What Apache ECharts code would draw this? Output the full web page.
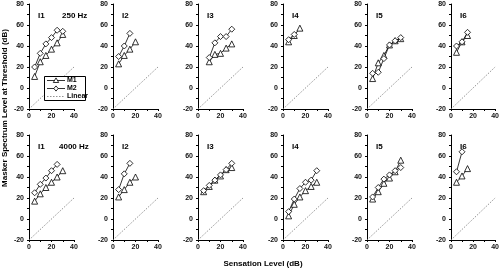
<!DOCTYPE html>
<html>
<head>
<meta charset="utf-8">
<script src="https://cdn.jsdelivr.net/npm/echarts@6/dist/echarts.min.js"></script>
<style>
  html, body { margin: 0; padding: 0; background: #fff; }
  #chart { width: 502px; height: 269px; }
</style>
</head>
<body>
<div id="chart"></div>
<script>
const listeners = ['I1', 'I2', 'I3', 'I4', 'I5', 'I6'];
const frequencies = ['250 Hz', '4000 Hz'];
const xTickLabels = [0, 20, 40];
const yTickLabels = [-20, 0, 20, 40, 60, 80];

// [sensation level, masker level] per listener
const m1At250 = [
  [[5, 11], [10, 25], [15, 31], [20, 37], [25, 43], [30, 51]],
  [[5, 23], [10, 31], [15, 37], [20, 44]],
  [[10, 25], [15, 32], [20, 33], [25, 38], [30, 42]],
  [[5, 44], [10, 50], [15, 57]],
  [[5, 9], [10, 24], [15, 31], [20, 41], [25, 45], [30, 47]],
  [[5, 34], [10, 44], [15, 50]]
];
const m2At250 = [
  [[5, 20], [10, 33], [15, 42], [20, 48], [25, 55], [30, 54]],
  [[5, 30], [10, 40], [15, 52]],
  [[10, 29], [15, 43], [20, 49], [25, 49], [30, 56]],
  [[5, 46], [10, 51]],
  [[5, 14], [10, 15], [15, 28], [20, 41], [25, 45], [30, 48]],
  [[5, 40], [10, 44], [15, 53]]
];
const m1At4000 = [
  [[5, 17], [10, 24], [15, 30], [20, 35], [25, 40], [30, 46]],
  [[5, 21], [10, 28], [15, 35], [20, 40]],
  [[5, 26], [10, 31], [15, 37], [20, 41], [25, 47], [30, 49]],
  [[5, 3], [10, 14], [15, 21], [20, 27], [25, 31], [30, 35]],
  [[5, 19], [10, 26], [15, 34], [20, 39], [25, 45], [30, 56]],
  [[5, 35], [10, 41], [15, 48]]
];
const m2At4000 = [
  [[5, 25], [10, 33], [15, 39], [20, 46], [25, 52]],
  [[5, 28], [10, 43], [15, 53]],
  [[5, 27], [10, 32], [15, 37], [20, 42], [25, 47], [30, 53]],
  [[5, 7], [10, 19], [15, 29], [20, 35], [25, 37], [30, 46]],
  [[5, 21], [10, 30], [15, 38], [20, 42], [25, 46], [30, 49]],
  [[5, 45], [10, 64]]
];
const linearRef = [[0, -20], [40, 20]];

const font = '"Liberation Sans", Arial, sans-serif';
const colLeft = [29, 113, 198, 283, 367, 451];
const rowTop = [4, 135];
const panelW = 45, panelH = 105;

const openMarker = { color: '#fff', borderColor: '#000', borderWidth: 0.8 };
const blackLine = { color: '#000', width: 0.8 };
const linearLine = { color: '#777', width: 0.8, type: [1.5, 1.5] };

const chart = echarts.init(document.getElementById('chart'));

const grids = [], xAxes = [], yAxes = [], series = [], titles = [];
const rows = [[m1At250, m2At250], [m1At4000, m2At4000]];

function axisBase(idx) {
  return {
    gridIndex: idx, type: 'value',
    axisLine: { show: true, onZero: false, lineStyle: { color: '#000', width: 1 } },
    axisTick: { show: true, length: 2, lineStyle: { color: '#000' } },
    minorTick: { show: true, splitNumber: 2, length: 2, lineStyle: { color: '#000' } },
    splitLine: { show: false }
  };
}

const tickFont = { color: '#111', fontSize: 7, fontWeight: 'bold', fontFamily: font };

rows.forEach(([m1, m2], r) => {
  listeners.forEach((name, c) => {
    const idx = grids.length;
    grids.push({ left: colLeft[c], top: rowTop[r], width: panelW, height: panelH });
    xAxes.push(Object.assign(axisBase(idx), {
      min: xTickLabels[0], max: xTickLabels[xTickLabels.length - 1],
      interval: xTickLabels[1] - xTickLabels[0],
      axisLabel: Object.assign({ margin: 4 }, tickFont)
    }));
    yAxes.push(Object.assign(axisBase(idx), {
      min: yTickLabels[0], max: yTickLabels[yTickLabels.length - 1],
      interval: yTickLabels[1] - yTickLabels[0],
      axisLabel: Object.assign({ margin: 5 }, tickFont)
    }));
    series.push({
      name: 'Linear', type: 'line', xAxisIndex: idx, yAxisIndex: idx,
      data: linearRef, symbol: 'none', silent: true,
      itemStyle: { color: '#777' }, lineStyle: linearLine
    });
    series.push({
      name: 'M1', type: 'line', xAxisIndex: idx, yAxisIndex: idx,
      data: m1[c], symbol: 'triangle', symbolSize: 6,
      itemStyle: openMarker, lineStyle: blackLine
    });
    series.push({
      name: 'M2', type: 'line', xAxisIndex: idx, yAxisIndex: idx,
      data: m2[c], symbol: 'diamond', symbolSize: 6,
      itemStyle: openMarker, lineStyle: blackLine
    });
    titles.push({
      text: name, left: colLeft[c] + 4, top: rowTop[r] + 3,
      textStyle: { fontSize: 8, fontWeight: 'bold', color: '#000', fontFamily: font }
    });
  });
  titles.push({
    text: frequencies[r], left: r === 0 ? 57 : 54, top: rowTop[r] + 3,
    textStyle: { fontSize: 8, fontWeight: 'bold', color: '#000', fontFamily: font }
  });
});

// legend box drawn by hand, like the boxed key in the first panel
const legendItems = [
  { label: 'M1', shape: 'triangle', line: blackLine },
  { label: 'M2', shape: 'diamond', line: blackLine },
  { label: 'Linear', shape: null, line: linearLine }
];
const legendGraphics = [{
  type: 'rect', z: 20,
  shape: { x: 44.5, y: 76.5, width: 41, height: 24 },
  style: { fill: '#fff', stroke: '#000', lineWidth: 1 }
}];
legendItems.forEach((it, i) => {
  const y = 80.5 + i * 8;
  legendGraphics.push({
    type: 'line', z: 21,
    shape: { x1: 47, y1: y, x2: 65, y2: y },
    style: { stroke: it.line.color, lineWidth: it.line.width, lineDash: Array.isArray(it.line.type) ? it.line.type : null }
  });
  if (it.shape === 'triangle') {
    legendGraphics.push({
      type: 'polygon', z: 22,
      shape: { points: [[56, y - 2.6], [58.7, y + 2], [53.3, y + 2]] },
      style: { fill: '#fff', stroke: '#000', lineWidth: 0.8 }
    });
  } else if (it.shape === 'diamond') {
    legendGraphics.push({
      type: 'polygon', z: 22,
      shape: { points: [[56, y - 2.6], [58.2, y], [56, y + 2.6], [53.8, y]] },
      style: { fill: '#fff', stroke: '#000', lineWidth: 0.8 }
    });
  }
  legendGraphics.push({
    type: 'text', z: 22, x: 67, y: y,
    style: { text: it.label, fill: '#000', font: 'bold 7px ' + font, verticalAlign: 'middle' }
  });
});

chart.setOption({
  animation: false,
  title: titles,
  grid: grids,
  xAxis: xAxes,
  yAxis: yAxes,
  series: series,
  graphic: legendGraphics.concat([
    {
      type: 'text', x: 5, y: 108, rotation: Math.PI / 2,
      style: {
        text: 'Masker Spectrum Level at Threshold (dB)', fill: '#000',
        font: 'bold 8px ' + font, align: 'center', verticalAlign: 'middle'
      }
    },
    {
      type: 'text', x: 263, y: 264,
      style: {
        text: 'Sensation Level (dB)', fill: '#000',
        font: 'bold 8px ' + font, align: 'center', verticalAlign: 'middle'
      }
    }
  ])
});
</script>
</body>
</html>
